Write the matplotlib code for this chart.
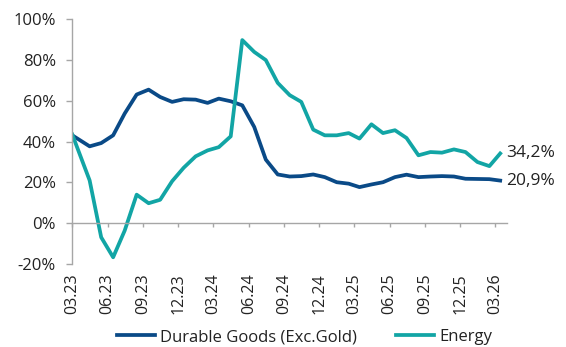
import matplotlib.pyplot as plt
import pandas as pd

# first point sits on the axis start, the rest mid-month
dates = [pd.Timestamp("2023-03-01")] + list(pd.date_range("2023-04-01", periods=36, freq="MS") + pd.Timedelta(days=14))

durable = [43.1, 37.7, 39.3, 43.1, 53.8, 63.1, 65.5, 61.9, 59.5, 60.8, 60.6, 59.0, 61.1,
           59.8, 57.8, 47.2, 31.2, 23.9, 22.9, 23.1, 23.9, 22.6, 20.1, 19.4, 17.7, 19.0,
           20.1, 22.6, 23.8, 22.6, 22.9, 23.1, 22.9, 21.8, 21.7, 21.6, 20.9]
energy = [43.5, 21.0, -6.9, -16.7, -3.6, 14.0, 9.8, 11.5, 20.6, 27.2, 32.8, 35.7, 37.3,
          42.6, 89.8, 84.0, 80.0, 68.8, 62.8, 59.5, 45.9, 43.1, 43.1, 44.2, 41.5, 48.5,
          44.2, 45.6, 41.8, 33.3, 34.9, 34.6, 36.2, 34.9, 30.0, 28.0, 34.2]

tick_dates = pd.date_range("2023-03-01", "2026-03-01", freq="3MS")
tick_labels = [d.strftime("%m.%y") for d in tick_dates]
yticks = [-20, 0, 20, 40, 60, 80, 100]

plt.rcParams['font.family'] = ['Open Sans', 'DejaVu Sans']
blue = '#0a4a87'
teal = '#12a5a5'
grey = '#a6a6a6'
txt = '#222222'

fig = plt.figure(figsize=(5.66, 3.47), dpi=100)
ax = fig.add_axes([0.1277, 0.2392, 0.8953 - 0.1277, 0.9444 - 0.2392])

ax.plot(dates, durable, color=blue, lw=2.7, label="Durable Goods (Exc.Gold)", solid_joinstyle='round')
ax.plot(dates, energy, color=teal, lw=2.7, label="Energy", solid_joinstyle='round')

ax.set_ylim(-20, 100)
ax.set_xlim(pd.Timestamp("2023-03-01"), pd.Timestamp("2026-04-01"))
ax.set_yticks(yticks)
ax.set_yticklabels([f"{v}%" for v in yticks])
ax.set_xticks(tick_dates)
ax.set_xticklabels(tick_labels)

for s in ['top', 'right']:
    ax.spines[s].set_visible(False)
ax.spines['bottom'].set_position(('data', 0))
for s in ['left', 'bottom']:
    ax.spines[s].set_color(grey)
    ax.spines[s].set_linewidth(1.0)

ax.tick_params(axis='y', length=4.3, width=1.0, color=grey, pad=7.5, labelsize=12, labelcolor=txt)
ax.tick_params(axis='x', length=3.1, width=1.0, color=grey, pad=33, labelsize=11.5,
               labelcolor=txt, labelrotation=90)

for vals in (energy, durable):
    ax.annotate(f"{vals[-1]:.1f}%".replace('.', ','), xy=(dates[-1], vals[-1]),
                xytext=(4, 0), textcoords='offset points', va='center', ha='left',
                fontsize=12.5, color=txt, annotation_clip=False)

fig.legend(loc='center', bbox_to_anchor=(0.538, 0.028), ncol=2, frameon=False,
           fontsize=12, handlelength=2.3, handletextpad=0.3, columnspacing=2.3,
           labelcolor=txt)

fig.savefig("out.png", dpi=100)
